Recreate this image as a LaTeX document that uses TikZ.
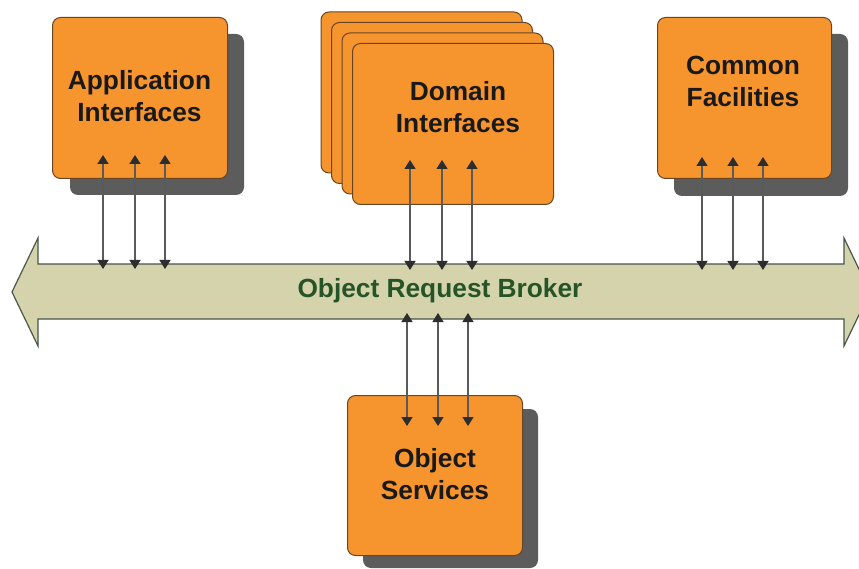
\documentclass[tikz,border=0pt]{standalone}
\usepackage{fontspec}
\setmainfont{Liberation Sans}
\usetikzlibrary{arrows.meta}
\definecolor{boxorange}{RGB}{246,148,46}
\definecolor{boxedge}{RGB}{105,70,35}
\definecolor{shadowgray}{RGB}{92,92,92}
\definecolor{bandfill}{RGB}{212,211,172}
\definecolor{bandedge}{RGB}{72,88,72}
\definecolor{orbgreen}{RGB}{38,84,38}
\definecolor{linkgray}{RGB}{90,90,90}
\definecolor{tipgray}{RGB}{45,45,45}
\tikzset{
  module/.style={draw=boxedge, line width=1pt, fill=boxorange, rounded corners=8pt},
  modshadow/.style={fill=shadowgray, rounded corners=8pt},
  modtext/.style={align=center, text=black!90, font=\bfseries\fontsize{26.3}{32}\selectfont},
  orbtext/.style={text=orbgreen, font=\bfseries\fontsize{26.3}{30}\selectfont},
  link/.style={draw=linkgray, line width=1.3pt,
    {Triangle[width=11pt,length=9pt,fill=tipgray,color=tipgray]}-{Triangle[width=11pt,length=9pt,fill=tipgray,color=tipgray]}}
}
\begin{document}
\begin{tikzpicture}[x=1pt,y=-1pt]
\clip (0,0) rectangle (859,569);
\fill[white] (0,0) rectangle (859,569);

% drop shadows
\path[modshadow] (70,34) rectangle (244,195);
\path[modshadow] (674,34) rectangle (848,196);
\path[modshadow] (363,409) rectangle (538,568);

% stacked domain boxes, back to front
\path[module] (321,12) rectangle (522,173);
\path[module] (331.5,22.5) rectangle (532.5,183.5);
\path[module] (342,33) rectangle (543,194);
\node[module, minimum width=201pt, minimum height=161pt, anchor=north west] (dom) at (352,43) {};

% modules
\node[module, minimum width=175pt, minimum height=161pt, anchor=north west] (app) at (52,17) {};
\node[module, minimum width=174pt, minimum height=161pt, anchor=north west] (cf) at (657,17) {};
\node[module, minimum width=175pt, minimum height=160pt, anchor=north west] (os) at (347,395) {};

\node[modtext] (apptext) at (139.5,96) {Application\\Interfaces};
\node[modtext] (domtext) at (458,107.5) {Domain\\Interfaces};
\node[modtext] (cftext) at (743,81) {Common\\Facilities};
\node[modtext] (ostext) at (435,474) {Object\\Services};

% the broker: a double-headed band
\path[draw=bandedge, line width=1.2pt, fill=bandfill]
  (12,292) -- (38,238) -- (38,264) -- (844,264) -- (844,238) -- (870,292)
  -- (844,346) -- (844,319) -- (38,319) -- (38,346) -- cycle;
\node[orbtext] (orb) at (440,291) {Object Request Broker};

% link end points
\foreach \n/\x/\yt/\yb in {a1/103/155/269, a2/135/155/269, a3/165/155/269,
                           d1/410/160/270, d2/442/160/270, d3/472/160/270,
                           c1/702/157/270, c2/733/157/270, c3/763/157/270,
                           s1/407/313/426, s2/438/313/426, s3/468/313/426}{
  \coordinate (\n top) at (\x,\yt);
  \coordinate (\n bot) at (\x,\yb);
}
\foreach \n in {a1,a2,a3,d1,d2,d3,c1,c2,c3,s1,s2,s3}{
  \draw[link] (\n top) -- (\n bot);
}
\end{tikzpicture}
\end{document}
